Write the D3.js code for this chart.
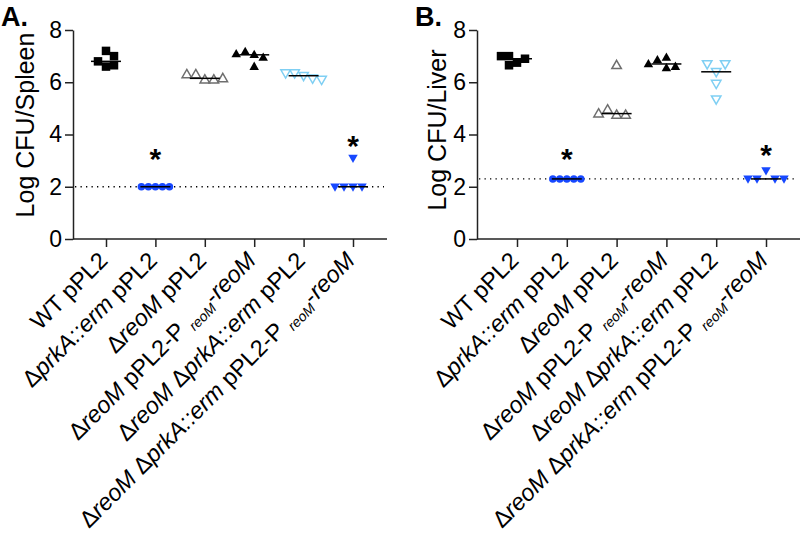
<!DOCTYPE html>
<html><head><meta charset="utf-8">
<script src="https://cdn.jsdelivr.net/npm/d3@7"></script>
<style>body{margin:0;background:#fff}svg{display:block}text{font-family:"Liberation Sans",Arial,sans-serif}</style>
</head><body><svg id="c" width="800" height="533"></svg>
<script>
// ---- data ----
const categories = ["WT pPL2", "ΔprkA::erm pPL2", "ΔreoM pPL2", "ΔreoM pPL2-P reoM-reoM", "ΔreoM ΔprkA::erm pPL2", "ΔreoM ΔprkA::erm pPL2-P reoM-reoM"];
const yTicks = [0, 2, 4, 6, 8];

const spleenWT = [6.6, 6.8, 7.2, 6.65, 7.0];
const spleenPrkA = [2.0, 2.0, 2.0, 2.0, 2.0];
const spleenReoM = [6.1, 6.3, 6.1, 6.3, 6.15];
const spleenReoMComp = [7.05, 7.17, 6.95, 7.08, 6.6];
const spleenDouble = [6.25, 6.35, 6.15, 6.35, 6.1];
const spleenDoubleComp = [3.1, 2.0, 2.0, 2.0, 2.0];
const spleenLOD = 2.0;
const spleenStars = [null, 3.2, null, null, null, 3.7];

const liverWT = [6.75, 7.0, 6.9, 7.0, 6.65];
const liverPrkA = [2.3, 2.3, 2.3, 2.3, 2.3];
const liverReoM = [6.65, 4.75, 4.95, 4.75, 4.8];
const liverReoMComp = [6.95, 6.55, 6.85, 6.6, 6.7];
const liverDouble = [6.4, 6.7, 6.7, 5.95, 5.35];
const liverDoubleComp = [2.62, 2.3, 2.3, 2.3, 2.3];
const liverLOD = 2.3;
const liverStars = [null, 3.2, null, null, null, 3.35];

// ---- styles ----
const BLUE = "#1748ff";
const markers = [
  {shape: "square", fill: "#000", stroke: "none", size: 8.5},
  {shape: "circle", fill: BLUE, stroke: "none", size: 7.5},
  {shape: "up", fill: "#fff", stroke: "#6e6e6e", size: 9.5},
  {shape: "up", fill: "#000", stroke: "none", size: 9.5},
  {shape: "down", fill: "#fff", stroke: "#7fcff3", size: 9.5},
  {shape: "down", fill: BLUE, stroke: "none", size: 9.5}
];

const svg = d3.select("#c");

function symPath(shape, s) {
  if (shape === "square") return `M${-s/2},${-s/2}h${s}v${s}h${-s}Z`;
  if (shape === "circle") return d3.symbol(d3.symbolCircle, Math.PI * (s/2) * (s/2))();
  const h = s * 0.87;
  if (shape === "up") return `M0,${-h*0.6}L${s/2},${h*0.4}L${-s/2},${h*0.4}Z`;
  return `M0,${h*0.6}L${s/2},${-h*0.4}L${-s/2},${-h*0.4}Z`;
}

function swarm(vals, y, d) {
  const placed = [];
  return vals.map(v => {
    const py = y(v);
    let off = 0;
    for (let k = 0; k < 200; k++) {
      const cand = k === 0 ? 0 : (k % 2 ? -Math.ceil(k/2) : Math.ceil(k/2));
      const ok = placed.every(p => !(Math.abs(p.x - cand) < d && Math.abs(p.y - py) < d));
      if (ok) { off = cand; break; }
    }
    placed.push({x: off, y: py});
    return {v, off};
  });
}

function labelTokens(lbl) {
  const out = [];
  const re = /(reoM|prkA::erm)/g;
  let last = 0, m;
  while ((m = re.exec(lbl)) !== null) {
    if (m.index > last) out.push({t: lbl.slice(last, m.index)});
    const before = lbl.slice(0, m.index);
    out.push({t: m[0], italic: true, sub: /-P $/.test(before)});
    last = m.index + m[0].length;
  }
  if (last < lbl.length) out.push({t: lbl.slice(last)});
  return out;
}

function panel(opt) {
  const g = svg.append("g");
  const y = d3.scaleLinear().domain([0, 8]).range([239, 30]);
  const x = d3.scalePoint().domain(categories).range(opt.xr);

  g.append("text").attr("x", opt.letterX).attr("y", 26).attr("font-size", 27).attr("font-weight", "bold").text(opt.letter);

  const ya = g.append("g").attr("transform", `translate(${opt.ax0},0)`)
    .call(d3.axisLeft(y).tickValues(yTicks).tickSize(8).tickPadding(3).tickSizeOuter(0));
  ya.select(".domain").attr("stroke", "#222").attr("stroke-width", 1.5);
  ya.selectAll(".tick line").attr("stroke", "#222").attr("stroke-width", 1.5);
  ya.selectAll(".tick text").attr("font-size", 23).attr("fill", "#000").style("font-family", "Liberation Sans, Arial, sans-serif");

  g.append("text").attr("transform", `translate(${opt.titleX},${opt.titleY}) rotate(-90)`)
    .attr("text-anchor", "middle").attr("font-size", 25).text(opt.title);

  g.append("line").attr("x1", opt.ax0).attr("x2", opt.ax1).attr("y1", 239).attr("y2", 239)
    .attr("stroke", "#222").attr("stroke-width", 1.5);
  const xa = g.append("g").attr("transform", "translate(0,239)")
    .call(d3.axisBottom(x).tickSize(8).tickFormat(""));
  xa.select(".domain").remove();
  xa.selectAll(".tick line").attr("stroke", "#222").attr("stroke-width", 1.5);

  categories.forEach(c => {
    const t = g.append("text").attr("transform", `translate(${x(c) + 3},${262}) rotate(-45)`)
      .attr("text-anchor", "end").attr("font-size", 23.5);
    let inSub = false;
    labelTokens(c).forEach(tok => {
      const ts = t.append("tspan").text(tok.t);
      if (tok.italic) ts.attr("font-style", "italic");
      if (tok.sub) { ts.attr("font-size", 14).attr("dy", 5); inSub = true; }
      else if (inSub) { ts.attr("dy", -5); inSub = false; }
    });
  });

  g.append("line").attr("x1", opt.ax0 + 2).attr("x2", opt.ax1 - 3)
    .attr("y1", y(opt.lod)).attr("y2", y(opt.lod))
    .attr("stroke", "#000").attr("stroke-width", 1.3).attr("stroke-dasharray", "1.3,4.2");

  opt.series.forEach((vals, i) => {
    const mk = markers[i];
    const cx = x(categories[i]);
    const pts = swarm(vals, y, mk.size - 1);
    g.append("g").selectAll("path").data(pts).join("path")
      .attr("d", symPath(mk.shape, mk.size))
      .attr("transform", p => `translate(${cx + p.off},${y(p.v)})`)
      .attr("fill", mk.fill).attr("stroke", mk.stroke).attr("stroke-width", mk.stroke === "none" ? 0 : 1.5);
    const med = d3.median(vals);
    g.append("line").attr("x1", cx - 15).attr("x2", cx + 15).attr("y1", y(med)).attr("y2", y(med))
      .attr("stroke", "#000").attr("stroke-width", 1.5);
    if (opt.stars[i] != null) {
      g.append("text").attr("x", cx).attr("y", y(opt.stars[i]) + 14).attr("text-anchor", "middle")
        .attr("font-size", 30).attr("font-weight", "bold").text("*");
    }
  });
}

panel({letter: "A.", letterX: 1, title: "Log CFU/Spleen", titleX: 34, titleY: 125, ax0: 73, ax1: 387, xr: [106, 353],
  series: [spleenWT, spleenPrkA, spleenReoM, spleenReoMComp, spleenDouble, spleenDoubleComp], lod: spleenLOD, stars: spleenStars});
panel({letter: "B.", letterX: 415, title: "Log CFU/Liver", titleX: 446, titleY: 130, ax0: 477, ax1: 800, xr: [517, 766],
  series: [liverWT, liverPrkA, liverReoM, liverReoMComp, liverDouble, liverDoubleComp], lod: liverLOD, stars: liverStars});
</script></body></html>
